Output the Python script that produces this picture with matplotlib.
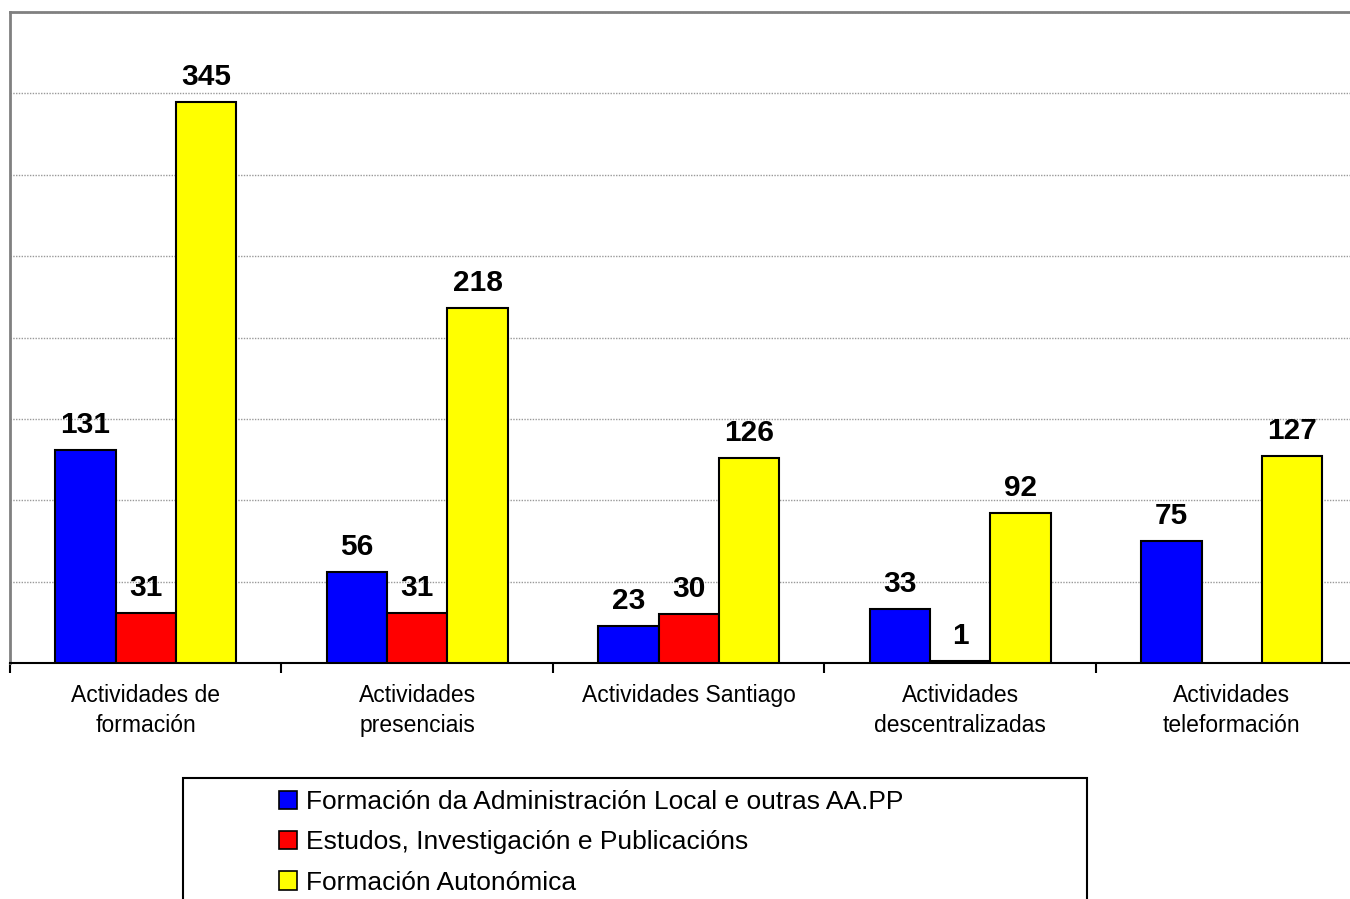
import matplotlib
matplotlib.use("Agg")
import matplotlib.pyplot as plt
import numpy as np
from matplotlib.patches import Patch, Rectangle

categories = ["Actividades de\nformación", "Actividades\npresenciais", "Actividades Santiago",
              "Actividades\ndescentralizadas", "Actividades\nteleformación"]
series_names = ["Formación da Administración Local e outras AA.PP",
                "Estudos, Investigación e Publicacións",
                "Formación Autonómica"]
admin_local = [131, 56, 23, 33, 75]
estudos = [31, 31, 30, 1, np.nan]
autonomica = [345, 218, 126, 92, 127]
colors = ["#0000FF", "#FF0000", "#FFFF00"]

plt.rcParams['font.family'] = ['Liberation Sans', 'DejaVu Sans']

W, H = 1350, 899
fig = plt.figure(figsize=(W / 100, H / 100), dpi=100)
left, right, top, bottom = 10, 1367.5, 12, 663
ax = fig.add_axes([left / W, 1 - bottom / H, (right - left) / W, (bottom - top) / H])

x = np.arange(len(categories))
bw = 0.2228
for i, (vals, col) in enumerate(zip([admin_local, estudos, autonomica], colors)):
    xs = x + (i - 1) * bw
    ax.bar(xs, vals, width=bw, color=col, edgecolor="black", linewidth=1.5,
           label=series_names[i], zorder=3)
    for xi, v in zip(xs, vals):
        if np.isnan(v):
            continue
        ax.annotate(f"{int(v)}", xy=(xi, v), xytext=(0, 17), textcoords="offset pixels",
                    ha="center", va="baseline", fontsize=21.5, fontweight="bold", zorder=4)

ax.set_ylim(0, 400)
ax.set_xlim(-0.5, len(categories) - 0.5)
ax.set_yticks(np.arange(0, 401, 50))
ax.yaxis.grid(True, color="#999999", linestyle=(0, (1, 1)), linewidth=1, zorder=0)
ax.tick_params(axis="y", left=False, labelleft=False)
ax.set_xticks(x)
ax.set_xticklabels(categories, fontsize=16.5, linespacing=1.4)
ax.tick_params(axis="x", which="major", length=0, pad=15)
ax.set_xticks(np.arange(-0.5, len(categories)), minor=True)
ax.tick_params(axis="x", which="minor", length=7, width=1.5, color="black", direction="out")
for s in ["left", "top", "right"]:
    ax.spines[s].set_color("#808080")
    ax.spines[s].set_linewidth(2)
ax.spines["bottom"].set_color("black")
ax.spines["bottom"].set_linewidth(1.5)

# legend box
fig.patches.append(Rectangle((183 / W, 1 - 930 / H), (1087 - 183) / W, (930 - 778) / H,
                             transform=fig.transFigure, fill=False, edgecolor="black",
                             linewidth=1.5, zorder=5))
handles = [Patch(facecolor=c, edgecolor="black", linewidth=1.2) for c in colors]
fig.legend(handles, series_names, loc="upper left",
           bbox_to_anchor=(279 / W, 1 - 790 / H), frameon=False, fontsize=19,
           handlelength=0.68, handleheight=0.68, handletextpad=0.35, labelspacing=0.62,
           borderpad=0, borderaxespad=0)

fig.savefig("out.png", dpi=100)
